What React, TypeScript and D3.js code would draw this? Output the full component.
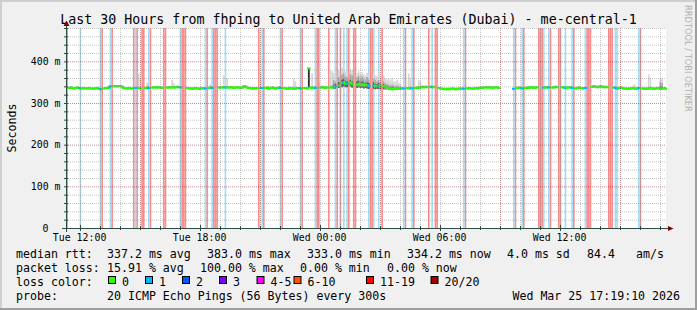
import React from "react";
import * as d3 from "d3";

// ---------- data ----------
const startTime = new Date(2026, 2, 24, 11, 19, 10);
const endTime = new Date(2026, 2, 25, 17, 19, 10);
const firstStep = new Date(2026, 2, 24, 11, 20, 0);
const STEP_MIN = 5;

// median rtt per 5-minute step (ms), null = no data / 100% loss
const medianRtt: (number | null)[] = [
  null, 336, 337, 336, 335, 336, 337, 336, 335, 335, 336, 335,
  335, 336, 335, 334, 335, 335, 336, 334, 333, null, 335, 336,
  336, 337, 340, null, 341, 340, 340, 341, 340, 339, 336, 335,
  335, 336, 335, 335, null, 336, null, 336, 335, null, null, 336,
  337, 336, null, 337, 338, 337, 337, 338, 337, 336, null, null,
  337, 338, 337, 338, 337, 338, 339, 338, 337, null, null, null,
  336, 335, 335, 334, 335, 336, 335, 334, 335, 336, 335, 335,
  null, 336, 337, 336, null, null, null, 337, 338, 337, 338, 337,
  338, 337, 338, 337, 336, 337, 338, 337, 336, 337, 340, 339,
  337, 336, 336, 335, 336, 335, 336, null, 336, 336, null, 336,
  337, 335, 336, 337, 336, 335, 336, 337, 336, null, 336, 335,
  334, 335, 336, 335, 334, 335, 336, 336, 335, null, 336, 336,
  335, 383, 337, 336, 337, 336, null, null, 337, 338, 337, 336,
  338, null, 337, 339, 338, 340, null, 342, null, 348, 350, 346,
  347, null, 349, 345, null, null, 344, 346, 343, 345, 342, 344,
  343, 341, null, null, 342, 340, 341, 342, 339, null, 340, 339,
  336, 335, 334, 333, 334, 335, 334, 335, 336, 335, 335, null,
  336, 335, 336, 335, null, 336, 337, 336, 338, 339, 338, 339,
  338, null, 339, 338, 339, null, null, 336, 335, 334, 334, 333,
  334, 333, 334, 335, 334, 333, 334, 335, 334, 335, 334, null,
  335, 336, 335, 334, 335, 336, 335, 336, 337, 336, 337, 338,
  337, 338, 337, 336, 337, 338, 337, 336, null, null, null, null,
  null, null, null, null, 334, null, 336, 337, 336, 335, null, 336,
  337, 336, 338, 337, 336, 337, 338, null, null, null, 337, 338,
  337, 338, null, 337, 338, 339, 338, null, null, 338, 337, 336,
  337, 338, 337, 336, null, 335, 336, 337, 336, 335, 336, 336,
  null, null, null, 339, 340, 339, 338, 339, 340, 339, 338, 339,
  338, null, null, null, 337, 336, 335, 336, 337, 336, 335, 334,
  335, 334, 335, 336, 335, 334, 335, 336, null, 335, 334, 335,
  334, 335, 336, 335, 334, 335, 336, 335, 334, 335, 336, 334,
];

// steps with 20/20 loss
const lossFull: number[] = [
  0, 21, 27, 40, 42, 45, 46, 50, 58, 59, 69, 70, 71, 84, 88, 89, 90, 115, 118,
  129, 141, 150, 151, 157, 162, 164, 169, 172, 173, 182, 183, 189, 203, 208,
  217, 221, 222, 239, 269, 274, 283, 284, 285, 290, 295, 296, 304, 312, 313,
  314, 325, 326, 327, 344,
];
// steps with 1/20 loss
const lossOne: number[] = [
  8, 20, 26, 41, 49, 68, 83, 87, 95, 117, 128, 140, 149, 161, 166, 168, 181,
  184, 187, 202, 207, 219, 238, 268, 273, 286, 289, 299, 303, 311, 329, 330, 343,
];

// light smoke spikes: [step, low, high]
const smokeLight: [number, number, number][] = [
  [28, 336, 342], [43, 334, 371], [44, 334, 360], [48, 335, 349], [63, 336, 355],
  [64, 336, 348], [86, 335, 346], [87, 335, 343], [94, 336, 367], [96, 336, 360],
  [116, 334, 372], [133, 333, 341], [136, 333, 359], [137, 333, 352], [147, 334, 371],
  [153, 336, 343], [158, 334, 379], [159, 334, 376], [205, 334, 371], [206, 334, 360],
  [211, 334, 355], [212, 335, 350], [340, 333, 345], [341, 333, 342], [349, 333, 369],
  [350, 333, 360],
];

// heavy smoke: [step, low, darkHigh, midHigh, lightHigh]
const smokeHeavy: [number, number, number, number, number][] = [
  [145, 336, 383, 383, 383],
  [160, 334, 344, 355, 372], [161, 335, 346, 352, 365], [163, 336, 350, 362, 378],
  [165, 338, 356, 368, 384], [166, 340, 358, 372, 380], [167, 338, 354, 364, 376],
  [168, 338, 352, 362, 372], [170, 340, 356, 370, 382], [171, 337, 352, 366, 378],
  [174, 336, 352, 362, 372], [175, 338, 354, 365, 376], [176, 336, 350, 360, 370],
  [177, 337, 352, 364, 374], [178, 335, 350, 358, 368], [179, 336, 348, 356, 366],
  [180, 335, 350, 362, 372], [181, 334, 348, 356, 368], [184, 334, 350, 358, 370],
  [185, 333, 346, 355, 366], [186, 334, 345, 352, 364], [187, 334, 348, 355, 370],
  [188, 333, 344, 350, 362], [190, 333, 345, 352, 366], [191, 333, 342, 348, 360],
  [192, 333, 340, 345, 356], [193, 332, 338, 344, 358], [194, 332, 338, 342, 354],
  [195, 332, 338, 344, 360], [196, 332, 337, 342, 352], [197, 332, 336, 340, 350],
  [198, 332, 337, 342, 356], [199, 332, 336, 340, 348], [200, 332, 336, 338, 346],
  [356, 333, 340, 350, 361], [357, 333, 339, 348, 358],
];

const yTickValues = [0, 100, 200, 300, 400];
const yTickLabels = ["0", "100 m", "200 m", "300 m", "400 m"];

const lossLegendLabels = ["0", "1", "2", "3", "4-5", "6-10", "11-19", "20/20"];
const lossLegendColors = ["#26ff00", "#00b8ff", "#0059ff", "#7e00ff", "#ff00ff", "#ff5500", "#ff0000", "#a10000"];
const lossLegendX = [108, 145, 182, 219, 256.5, 293.5, 366, 430.5];

const legendRow1: [number, string][] = [
  [16, "median rtt:"], [107, "337.2 ms avg"], [207, "383.0 ms max"], [307, "333.0 ms min"],
  [407, "334.2 ms now"], [507, "4.0 ms sd"], [587, "84.4"], [636, "am/s"],
];
const legendRow2: [number, string][] = [
  [16, "packet loss:"], [107, "15.91 % avg"], [200, "100.00 % max"], [300, "0.00 % min"], [387, "0.00 % now"],
];
const legendRow4: [number, string][] = [[16, "probe:"], [107, "20 ICMP Echo Pings (56 Bytes) every 300s"]];
const stampText = "Wed Mar 25 17:19:10 2026";
const titleText = "Last 30 Hours from fhping to United Arab Emirates (Dubai) - me-central-1";

// ---------- component ----------
const FONT = "'DejaVu Sans Mono', monospace";
const GREEN = "#22ff00";
const BLUE = "#00b8ff";
const BAR_RED = "#ff8a8a";
const BAR_BLUE = "#a2dff6";

export default function App() {
  const X0 = 66, X1 = 666, YB = 228, YT = 28;
  const x = d3.scaleTime().domain([startTime, endTime]).range([X0, X1]);
  const y = d3.scaleLinear().domain([0, 480]).range([YB, YT]);
  const t = (k: number) => d3.timeMinute.offset(firstStep, k * STEP_MIN);
  const xs = (k: number) => Math.max(X0, Math.min(X1, x(t(k)) as number));

  const hours = d3.timeHour.range(startTime, endTime);
  const labelTicks = d3.timeHour.every(6)!.range(startTime, endTime);
  const fmt = d3.timeFormat("%a %H:%M");

  const blueSet = new Set(lossOne);

  const lineSegs: JSX.Element[] = [];
  medianRtt.forEach((v, k) => {
    if (v == null) return;
    const p = k > 0 ? medianRtt[k - 1] : null;
    const x0 = xs(k), x1 = xs(k + 1);
    const d = p != null && Math.abs(p - v) < 12
      ? `M${x0},${y(p)}V${y(v)}H${x1}`
      : `M${x0},${y(v)}H${x1}`;
    lineSegs.push(
      <path key={k} d={d} fill="none" stroke={blueSet.has(k) ? BLUE : GREEN} strokeWidth={2} strokeLinecap="square" />
    );
  });

  const minorY = d3.range(20, 481, 20);

  return (
    <svg width={697} height={310} style={{ position: "absolute", left: 0, top: 0 }} fontFamily={FONT}>
      <rect x={0} y={0} width={697} height={310} fill="#f0f0f0" />
      <rect x={0} y={0} width={697} height={2} fill="#cfcfcf" />
      <rect x={0} y={0} width={2} height={310} fill="#cfcfcf" />
      <rect x={0} y={308} width={697} height={2} fill="#9e9e9e" />
      <rect x={695} y={0} width={2} height={310} fill="#9e9e9e" />

      <text x={348.5} y={24} textAnchor="middle" fontSize={13.3} fill="#000">{titleText}</text>
      <text transform="translate(685,5) rotate(90)" fontSize={8.3} fill="#b0b0b0" fontFamily="'DejaVu Sans', sans-serif">RRDTOOL / TOBI OETIKER</text>

      {/* canvas */}
      <rect x={X0} y={YT} width={X1 - X0} height={YB - YT} fill="#ffffff" />

      {/* loss background bars */}
      {lossFull.map((k) => (
        <rect key={"r" + k} x={xs(k)} y={YT} width={xs(k + 1) - xs(k)} height={YB - YT} fill={BAR_RED} />
      ))}
      {lossOne.map((k) => (
        <rect key={"b" + k} x={xs(k)} y={YT} width={xs(k + 1) - xs(k)} height={YB - YT} fill={BAR_BLUE} />
      ))}

      {/* smoke */}
      {smokeLight.map(([k, lo, hi]) => (
        <rect key={"sl" + k} x={xs(k)} y={y(hi)} width={xs(k + 1) - xs(k)} height={y(lo) - y(hi)} fill="#d6d6d6" />
      ))}
      {smokeHeavy.map(([k, lo, dk, md, lt]) => (
        <g key={"sh" + k}>
          <rect x={xs(k)} y={y(lt)} width={xs(k + 1) - xs(k)} height={y(lo) - y(lt)} fill="#d6d6d6" />
          <rect x={xs(k)} y={y(md)} width={xs(k + 1) - xs(k)} height={y(lo) - y(md)} fill="#a8a8a8" />
          <rect x={xs(k)} y={y(dk)} width={xs(k + 1) - xs(k)} height={y(lo) - y(dk)} fill={k === 145 ? "#2a2a2a" : "#5a5a5a"} />
        </g>
      ))}

      {/* median line */}
      {lineSegs}

      {/* grid */}
      {minorY.map((v) => (
        <line key={"gy" + v} x1={X0} x2={X1} y1={y(v) + 0.5} y2={y(v) + 0.5}
          stroke={v % 100 === 0 ? "rgba(130,30,30,0.5)" : "rgba(140,140,140,0.5)"} strokeDasharray="1 1" />
      ))}
      {hours.map((h) => {
        const major = h.getHours() % 6 === 3;
        const xx = Math.round(x(h) as number) + 0.5;
        return (
          <line key={"gx" + +h} x1={xx} x2={xx} y1={YT} y2={YB}
            stroke={major ? "rgba(130,30,30,0.5)" : "rgba(140,140,140,0.5)"} strokeDasharray="1 1" />
        );
      })}

      {/* axes */}
      {hours.map((h) => {
        const xx = Math.round(x(h) as number) + 0.5;
        return <line key={"tx" + +h} x1={xx} x2={xx} y1={YB - 2} y2={YB + 2} stroke="#2c4d43" />;
      })}
      {labelTicks.map((h) => {
        const xx = Math.round(x(h) as number) + 0.5;
        return (
          <g key={"lt" + +h}>
            <line x1={xx} x2={xx} y1={YB - 3} y2={YB + 3} stroke="#2c4d43" />
            <text x={x(h)} y={241} textAnchor="middle" fontSize={9.9} fill="#000">{fmt(h)}</text>
          </g>
        );
      })}
      {minorY.map((v) => (
        <line key={"ty" + v} x1={X0 - 2} x2={X0 + 2} y1={y(v) + 0.5} y2={y(v) + 0.5} stroke="#2c4d43" />
      ))}
      {yTickValues.map((v, i) => (
        <text key={"yl" + v} x={v === 0 ? 48.5 : 60.5} y={y(v) + 3.5} textAnchor="end" fontSize={9.9} fill="#000">
          {yTickLabels[i]}
        </text>
      ))}
      <line x1={62} x2={670} y1={YB + 0.5} y2={YB + 0.5} stroke="#2c4d43" />
      <line x1={X0 + 0.5} x2={X0 + 0.5} y1={YB + 4} y2={24} stroke="#2c4d43" />
      <path d={`M668,${YB - 2}L673.5,${YB + 0.5}L668,${YB + 3}Z`} fill="#7f0000" />
      <path d={`M${X0 - 2.5},26L${X0 + 0.5},20.5L${X0 + 3.5},26Z`} fill="#7f0000" />

      <text transform="translate(15.5,128) rotate(-90)" textAnchor="middle" fontSize={11.6} fill="#000">Seconds</text>

      {/* legend */}
      {legendRow1.map(([lx, s]) => (
        <text key={"l1" + lx} x={lx} y={257.5} fontSize={11.6} fill="#000" style={{ whiteSpace: "pre" }}>{s}</text>
      ))}
      {legendRow2.map(([lx, s]) => (
        <text key={"l2" + lx} x={lx} y={271.8} fontSize={11.6} fill="#000" style={{ whiteSpace: "pre" }}>{s}</text>
      ))}
      <text x={16} y={286} fontSize={11.6} fill="#000">loss color:</text>
      {lossLegendLabels.map((lab, i) => (
        <g key={"lc" + i}>
          <rect x={lossLegendX[i] + 0.5} y={276.5} width={7} height={7} fill={lossLegendColors[i]} stroke="#000" strokeWidth={1} />
          <text x={lossLegendX[i] + 14} y={286} fontSize={11.6} fill="#000">{lab}</text>
        </g>
      ))}
      {legendRow4.map(([lx, s]) => (
        <text key={"l4" + lx} x={lx} y={300.2} fontSize={11.6} fill="#000" style={{ whiteSpace: "pre" }}>{s}</text>
      ))}
      <text x={680} y={300.2} textAnchor="end" fontSize={11.6} fill="#000">{stampText}</text>
    </svg>
  );
}
